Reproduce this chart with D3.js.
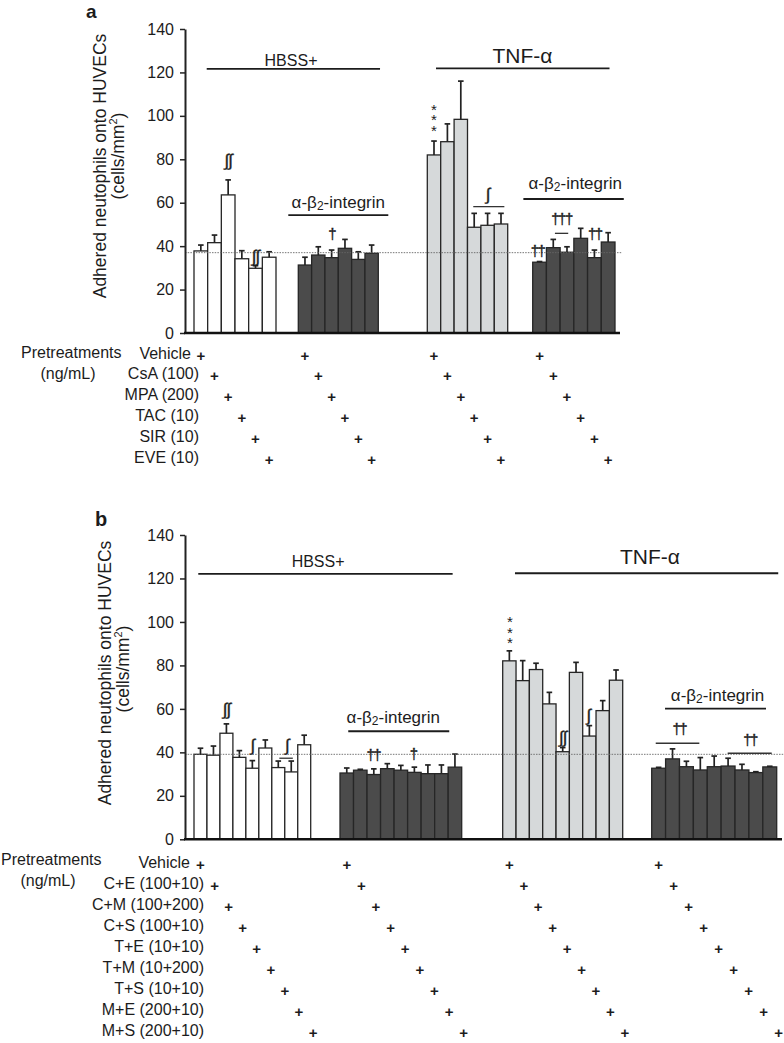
<!DOCTYPE html>
<html><head><meta charset="utf-8">
<script src="https://cdn.jsdelivr.net/npm/d3@7"></script>
<style>
body{margin:0;background:#fff}
svg{display:block}
text{font-family:"Liberation Sans",Arial,sans-serif;fill:#1c1c1c}
</style>
</head><body>
<svg id="c" width="784" height="1043"></svg>
<script>
// ---------------- DATA ----------------
const yTicks = [0, 20, 40, 60, 80, 100, 120, 140];
const groupNames = ["HBSS+", "HBSS+ / α-β2-integrin", "TNF-α", "TNF-α / α-β2-integrin"];

// Panel a
const treatmentsA = ["Vehicle", "CsA (100)", "MPA (200)", "TAC (10)", "SIR (10)", "EVE (10)"];
const aHbss      = [37.8, 41.6, 63.6, 34.2, 29.8, 34.9];
const aHbssSE    = [2.7, 3.5, 6.9, 3.7, 1.2, 2.5];
const aHbssAb    = [31.3, 35.9, 34.7, 39.0, 33.9, 36.7];
const aHbssAbSE  = [3.6, 3.8, 3.5, 4.1, 3.5, 3.8];
const aTnf       = [82.0, 88.1, 98.4, 48.7, 49.6, 50.2];
const aTnfSE     = [6.4, 8.2, 17.6, 6.4, 5.5, 4.9];
const aTnfAb     = [32.6, 39.3, 37.2, 43.6, 34.7, 41.9];
const aTnfAbSE   = [0.3, 3.8, 2.5, 4.6, 3.5, 4.3];
const aVehicleRef = 37.0;

// Panel b
const treatmentsB = ["Vehicle", "C+E (100+10)", "C+M (100+200)", "C+S (100+10)", "T+E (10+10)", "T+M (10+200)", "T+S (10+10)", "M+E (200+10)", "M+S (200+10)"];
const bHbss      = [39.1, 38.7, 48.8, 37.7, 32.7, 42.0, 33.0, 31.0, 43.5];
const bHbssSE    = [2.8, 4.2, 4.3, 3.1, 3.5, 3.7, 3.0, 5.0, 4.4];
const bHbssAb    = [30.5, 31.8, 29.8, 32.5, 31.8, 30.8, 30.2, 30.2, 33.2];
const bHbssAbSE  = [2.3, 0.4, 2.6, 2.3, 2.2, 2.4, 4.0, 4.0, 6.0];
const bTnf       = [82.1, 73.0, 78.1, 62.3, 40.3, 76.8, 47.5, 59.2, 73.2];
const bTnfSE     = [4.6, 9.2, 2.9, 5.3, 1.9, 4.6, 4.8, 4.6, 4.7];
const bTnfAb     = [32.7, 37.0, 33.4, 31.9, 33.4, 33.7, 31.9, 30.7, 33.3];
const bTnfAbSE   = [0.4, 4.6, 2.5, 5.7, 4.9, 3.6, 2.6, 0.4, 0.3];
const bVehicleRef = 39.1;

// significance marks: group, bar position (index units), value, symbol
const sigA = [
  {g:0, i:2.5, v:78.9, t:"∫∫"}, {g:0, i:4.5, v:35.1, t:"∫∫"},
  {g:1, i:2.5, v:45.1, t:"†"},
  {g:2, i:4.5, v:63.6, t:"∫"},
  {g:3, i:0.35, v:37.4, t:"††"}, {g:3, i:2.1, v:52.0, t:"†††"}, {g:3, i:4.53, v:45.1, t:"††"}
];
const starsA = {g:2, i:0.5, v:97.3, t:"***"};
const sigLinesA = [{g:2, i1:3.43, i2:5.75, v:58.2}, {g:3, i1:1.62, i2:2.59, v:45.9}];
const sigB = [
  {g:0, i:2.5, v:59.5, t:"∫∫"}, {g:0, i:4.5, v:42.6, t:"∫"}, {g:0, i:7.15, v:42.6, t:"∫"},
  {g:1, i:2.46, v:38.3, t:"††"}, {g:1, i:5.42, v:38.8, t:"†"},
  {g:2, i:4.5, v:46.5, t:"∫∫"}, {g:2, i:6.42, v:56.4, t:"∫"},
  {g:3, i:1.99, v:50.3, t:"††"}, {g:3, i:7.08, v:45.4, t:"††"}
];
const starsB = {g:2, i:0.55, v:94.4, t:"***"};
const sigLinesB = [{g:0, i1:6.58, i2:7.62, v:37.3}, {g:3, i1:0.29, i2:3.43, v:44.2}, {g:3, i1:5.47, i2:8.64, v:39.6}];

// bracket labels
const bracketsA = [
  {label:"HBSS+", kind:"plain", size:16, tg:0, ti:7.1, tv:125.7, g1:0, i1:0.93, g2:1, i2:6.13, lv:121.6},
  {label:"TNF-α", kind:"plain", size:21, tg:2, ti:7.1, tv:128.0, g1:2, i1:0.65, g2:3, i2:5.6, lv:121.9},
  {label:"ab", kind:"ab", size:17, tg:1, ti:3.0, tv:60.5, g1:1, i1:-0.75, g2:1, i2:6.75, lv:54.3},
  {label:"ab", kind:"ab", size:17, tg:3, ti:3.1, tv:68.9, g1:3, i1:-0.68, g2:3, i2:6.64, lv:61.7}
];
const bracketsB = [
  {label:"HBSS+", kind:"plain", size:16, tg:0, ti:9.57, tv:127.7, g1:0, i1:0.33, g2:1, i2:8.33, lv:122.1},
  {label:"TNF-α", kind:"plain", size:21, tg:3, ti:-0.12, tv:130.0, g1:2, i1:0.92, g2:3, i2:9.11, lv:122.4},
  {label:"ab", kind:"ab", size:17, tg:1, ti:3.94, tv:56.4, g1:1, i1:0.61, g2:1, i2:8.08, lv:49.7},
  {label:"ab", kind:"ab", size:17, tg:3, ti:4.74, tv:66.4, g1:3, i1:0.96, g2:3, i2:8.23, lv:60.1}
];

// ---------------- DRAWING ----------------
const fills = ["#ffffff", "#4b4b4b", "#d6d9da", "#4b4b4b"];
const svg = d3.select("#c");
svg.append("rect").attr("width", 784).attr("height", 1043).attr("fill", "#fff");

const panels = [
  {letter:"a", lx:86, ly:17.5, lsize:19, axisX:185, yRange:[333, 29], xEnd:620, dashEnd:622,
   groupRanges:[[194,276],[298.3,378.3],[427.3,507.7],[532.7,615]],
   values:[aHbss, aHbssAb, aTnf, aTnfAb], se:[aHbssSE, aHbssAbSE, aTnfSE, aTnfAbSE], ref:aVehicleRef,
   sig:sigA, stars:starsA, sigLines:sigLinesA, brackets:bracketsA,
   treatments:treatmentsA, rowY:[353, 457.7], labelRight:199, vehRight:191, plusDrift:0,
   preX:21, preY:352.7, ngX:68, ngY:373.3,
   t1:{x:106, y:166}, t2:{x:123.5, y:156}},
  {letter:"b", lx:95, ly:526, lsize:20, axisX:185, yRange:[839.3, 535], xEnd:782, dashEnd:784,
   groupRanges:[[194,310.7],[340,461.7],[502.7,622.7],[651.7,776.7]],
   values:[bHbss, bHbssAb, bTnf, bTnfAb], se:[bHbssSE, bHbssAbSE, bTnfSE, bTnfAbSE], ref:bVehicleRef,
   sig:sigB, stars:starsB, sigLines:sigLinesB, brackets:bracketsB,
   treatments:treatmentsB, rowY:[862, 1030], labelRight:204, vehRight:190, plusDrift:1.1,
   preX:1, preY:859, ngX:48, ngY:880,
   t1:{x:111, y:673}, t2:{x:128.5, y:669}}
];

panels.forEach(P => {
  const g = svg.append("g");
  const y = d3.scaleLinear().domain([0, 140]).range(P.yRange);
  const xs = P.groupRanges.map((r, k) => d3.scaleBand().domain(d3.range(P.values[k].length)).range(r).padding(0));
  const pos = (k, idx) => xs[k].range()[0] + idx * xs[k].bandwidth();

  // panel letter
  g.append("text").attr("x", P.lx).attr("y", P.ly).attr("font-size", P.lsize).attr("font-weight", "bold").text(P.letter);

  // y-axis title
  g.append("text").attr("transform", `translate(${P.t1.x},${P.t1.y}) rotate(-90)`)
    .attr("text-anchor", "middle").attr("font-size", 17.5).text("Adhered neutophils onto HUVECs");
  const t2 = g.append("text").attr("transform", `translate(${P.t2.x},${P.t2.y}) rotate(-90)`)
    .attr("text-anchor", "middle").attr("font-size", 17.5);
  t2.append("tspan").text("(cells/mm");
  t2.append("tspan").attr("font-size", 11).attr("dy", -7).text("2");
  t2.append("tspan").attr("dy", 7).text(")");

  // bars
  P.values.forEach((vals, k) => {
    const gg = g.append("g");
    const x = xs[k], bw = x.bandwidth();
    gg.selectAll("rect").data(vals).join("rect")
      .attr("x", (d, i) => x(i)).attr("y", d => y(d))
      .attr("width", bw).attr("height", d => y(0) - y(d))
      .attr("fill", fills[k]).attr("stroke", "#262626").attr("stroke-width", 1.3);
    const se = P.se[k];
    gg.selectAll("line.err").data(vals).join("line").attr("class", "err")
      .attr("x1", (d, i) => x(i) + bw / 2).attr("x2", (d, i) => x(i) + bw / 2)
      .attr("y1", d => y(d)).attr("y2", (d, i) => y(d + se[i]))
      .attr("stroke", "#222").attr("stroke-width", 1.7);
    gg.selectAll("line.cap").data(vals).join("line").attr("class", "cap")
      .attr("x1", (d, i) => x(i) + bw / 2 - 2.8).attr("x2", (d, i) => x(i) + bw / 2 + 2.8)
      .attr("y1", (d, i) => y(d + se[i])).attr("y2", (d, i) => y(d + se[i]))
      .attr("stroke", "#222").attr("stroke-width", 1.7);
  });

  // vehicle reference dotted line
  g.append("line").attr("x1", P.axisX).attr("x2", P.dashEnd)
    .attr("y1", y(P.ref)).attr("y2", y(P.ref))
    .attr("stroke", "#666").attr("stroke-width", 0.9).attr("stroke-dasharray", "1.5,1.2");

  // y axis
  const ax = g.append("g").attr("transform", `translate(${P.axisX},0)`)
    .call(d3.axisLeft(y).tickValues(yTicks).tickSize(5).tickSizeOuter(0).tickPadding(6));
  ax.select(".domain").attr("stroke", "#222").attr("stroke-width", 2);
  ax.selectAll(".tick line").attr("stroke", "#222").attr("stroke-width", 1.5);
  ax.selectAll(".tick text").attr("font-size", 16).attr("fill", "#1c1c1c")
    .attr("font-family", '"Liberation Sans",Arial,sans-serif');

  // x axis baseline
  g.append("line").attr("x1", P.axisX - 1).attr("x2", P.xEnd).attr("y1", y(0)).attr("y2", y(0))
    .attr("stroke", "#111").attr("stroke-width", 2.6);

  // brackets
  P.brackets.forEach(b => {
    g.append("line").attr("x1", pos(b.g1, b.i1)).attr("x2", pos(b.g2, b.i2))
      .attr("y1", y(b.lv)).attr("y2", y(b.lv)).attr("stroke", "#1c1c1c").attr("stroke-width", 1.8);
    const t = g.append("text").attr("x", pos(b.tg, b.ti)).attr("y", y(b.tv))
      .attr("text-anchor", "middle").attr("dominant-baseline", "central").attr("font-size", b.size);
    if (b.kind === "ab") {
      t.append("tspan").text("α-β");
      t.append("tspan").attr("font-size", 12).attr("dy", 4).text("2");
      t.append("tspan").attr("dy", -4).text("-integrin");
    } else t.text(b.label);
  });

  // significance symbols
  P.sig.forEach(s => {
    const isInt = s.t.indexOf("∫") >= 0;
    const fs = isInt ? 17 : 15;
    g.append("text").attr("x", pos(s.g, s.i)).attr("y", y(s.v) + fs * 0.28)
      .attr("text-anchor", "middle").attr("font-size", fs)
      .attr("font-family", '"Liberation Serif","DejaVu Serif",serif')
      .attr("letter-spacing", isInt ? -1 : -1.5)
      .attr("stroke", "#1c1c1c").attr("stroke-width", 0.35)
      .text(s.t);
  });
  // stacked asterisks: one vertical text
  g.append("text").attr("x", pos(P.stars.g, P.stars.i)).attr("y", y(P.stars.v) - 5)
    .attr("text-anchor", "middle")
    .style("writing-mode", "vertical-rl").style("text-orientation", "upright")
    .attr("font-size", 15).attr("letter-spacing", -6.5)
    .text(P.stars.t);
  P.sigLines.forEach(l => {
    g.append("line").attr("x1", pos(l.g, l.i1)).attr("x2", pos(l.g, l.i2))
      .attr("y1", y(l.v)).attr("y2", y(l.v)).attr("stroke", "#333").attr("stroke-width", 1.3);
  });

  // pretreatment table
  const rows = d3.scaleLinear().domain([0, P.treatments.length - 1]).range(P.rowY);
  g.append("text").attr("x", P.preX).attr("y", P.preY).attr("dominant-baseline", "central")
    .attr("font-size", 16).text("Pretreatments");
  g.append("text").attr("x", P.ngX).attr("y", P.ngY).attr("dominant-baseline", "central")
    .attr("text-anchor", "middle").attr("font-size", 16).text("(ng/mL)");
  g.selectAll("text.trt").data(P.treatments).join("text").attr("class", "trt")
    .attr("x", (d, i) => i === 0 ? P.vehRight : P.labelRight).attr("y", (d, i) => rows(i))
    .attr("text-anchor", "end").attr("dominant-baseline", "central").attr("font-size", 16).text(d => d);
  xs.forEach((x, k) => {
    g.selectAll(`text.plus${k}`).data(P.treatments).join("text").attr("class", `plus${k}`)
      .attr("x", (d, i) => x(i) + x.bandwidth() / 2 + i * P.plusDrift)
      .attr("y", (d, i) => rows(i) + 2)
      .attr("text-anchor", "middle").attr("dominant-baseline", "central")
      .attr("font-size", 15).attr("font-weight", "bold").text("+");
  });
});
</script>
</body></html>
